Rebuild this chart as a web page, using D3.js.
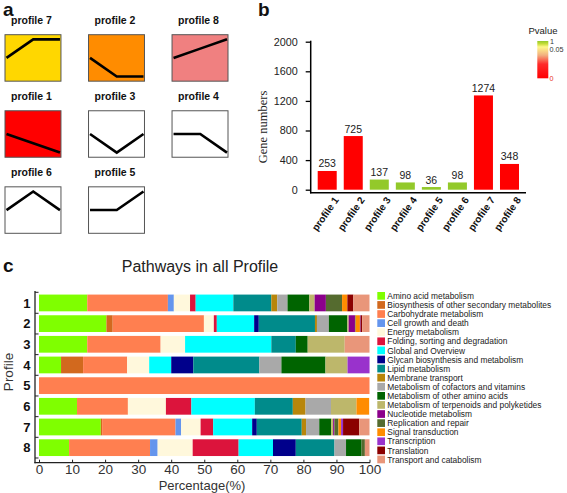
<!DOCTYPE html>
<html><head><meta charset="utf-8">
<script src="https://cdn.jsdelivr.net/npm/d3@7"></script>
<style>body{margin:0;background:#fff} svg{display:block}</style>
</head><body>
<svg id="chart" width="567" height="493"></svg>
<script>
// ---------- Panel a data ----------
const profileOrder = ["profile 7","profile 2","profile 8","profile 1","profile 3","profile 4","profile 6","profile 5"];
const profileShapes = [[0,1,1],[0,-1,-1],[0,1,2],[0,-1,-2],[0,-1,0],[0,0,-1],[0,1,0],[0,0,1]];
const profileFills = ["#FFD700","#FF8C00","#F08080","#FF0000","#FFFFFF","#FFFFFF","#FFFFFF","#FFFFFF"];

// ---------- Panel b data ----------
const barProfiles = ["profile 1","profile 2","profile 3","profile 4","profile 5","profile 6","profile 7","profile 8"];
const geneNumbers = [253,725,137,98,36,98,1274,348];
const pValues = [0,0,1,1,1,1,0,0];
const geneTicks = [0,400,800,1200,1600,2000];

// ---------- Panel c data ----------
const pathways = ["Amino acid metabolism","Biosynthesis of other secondary metabolites","Carbohydrate metabolism","Cell growth and death","Energy metabolism","Folding, sorting and degradation","Global and Overview","Glycan biosynthesis and metabolism","Lipid metabolism","Membrane transport","Metabolism of cofactors and vitamins","Metabolism of other amino acids","Metabolism of terpenoids and polyketides","Nucleotide metabolism","Replication and repair","Signal transduction","Transcription","Translation","Transport and catabolism"];
const pathwayColors = ["#7FFF00","#D2691E","#FF7F50","#6495ED","#FFF8DC","#DC143C","#00FFFF","#00008B","#008B8B","#B8860B","#A9A9A9","#006400","#BDB76B","#8B008B","#556B2F","#FF8C00","#9932CC","#8B0000","#E9967A"];
const rowLabels = ["1","2","3","4","5","6","7","8"];
const pct1 = [14.6,0,24.4,1.8,4.9,1.7,11.4,0,11.5,1.8,3.1,6.6,1.6,3.4,4.9,1.6,0,1.8,4.9];
const pct2 = [20.4,1.9,27.6,0,3.0,0.9,11.3,1.4,17.0,0.6,3.6,5.6,0.4,1.9,0.2,1.3,0.2,0.5,2.2];
const pct3 = [14.6,0,22.2,0,7.4,0,26.1,0,7.4,0,0,3.6,11.2,0,0,0,0,0,7.5];
const pct4 = [6.67,6.67,13.33,0,6.67,0,6.67,6.67,20,0,6.67,13.33,6.67,0,0,0,6.67,0,0];
const pct5 = [0,0,100,0,0,0,0,0,0,0,0,0,0,0,0,0,0,0,0];
const pct6 = [11.5,0,15.4,0,11.5,7.7,19.2,0,11.5,3.85,7.7,0,7.7,0,0,3.85,0,0,0];
const pct7 = [18.7,0.4,22.2,1.7,5.9,3.8,11.8,1.4,13.6,1.3,4.0,3.6,0.6,0.4,1.2,0.8,0.6,4.9,3.1];
const pct8 = [9.1,0,24.5,2.3,10.6,13.9,10.4,6.9,11.7,0,3.5,4.7,0,0,1.0,0,0,0,1.4];
const pctRows = [pct1,pct2,pct3,pct4,pct5,pct6,pct7,pct8];
const pctTicks = [0,10,20,30,40,50,60,70,80,90,100];

const svg = d3.select("#chart");
const SANS = "'Liberation Sans', Arial, sans-serif";

// panel letters
[["a",3,16],["b",258,16],["c",3,272]].forEach(([t,x,y]) =>
  svg.append("text").attr("x",x).attr("y",y).text(t)
    .attr("font-family",SANS).attr("font-weight","bold").attr("font-size",19).attr("fill","#111"));

// ================= Panel a =================
const colA = d3.scaleBand().domain([0,1,2]).range([5,228]).paddingInner(0.33).paddingOuter(0);
const rowA = d3.scaleBand().domain([0,1,2]).range([34.7,233.3]).paddingInner(0.389).paddingOuter(0);
profileOrder.forEach((name,i) => {
  const c = i % 3, r = Math.floor(i / 3);
  const x0 = colA(c), y0 = rowA(r), w = colA.bandwidth(), h = rowA.bandwidth();
  const g = svg.append("g");
  g.append("text").attr("x", x0 + w/2 - 1.5).attr("y", y0 - 10.5).attr("text-anchor","middle")
    .attr("font-family",SANS).attr("font-weight","bold").attr("font-size",10.5).attr("fill","#111").text(name);
  g.append("rect").attr("x",x0).attr("y",y0).attr("width",w).attr("height",h)
    .attr("fill",profileFills[i]).attr("stroke","#555").attr("stroke-width",1);
  const vals = profileShapes[i];
  const m = d3.max(vals, v => Math.abs(v));
  const xs = d3.scalePoint().domain([0,1,2]).range([x0+1.5, x0+w-1]);
  const ys = d3.scaleLinear().domain([-m, m]).range([y0 + h*0.9, y0 + h*0.1]);
  g.append("path").datum(vals)
    .attr("d", d3.line().x((d,j)=>xs(j)).y(d=>ys(d)))
    .attr("fill","none").attr("stroke","#000").attr("stroke-width",2.6);
});

// ================= Panel b =================
const xB = d3.scaleBand().domain(barProfiles).range([310.7,526]).paddingInner(0.27).paddingOuter(0.269);
const yB = d3.scaleLinear().domain([0,2000]).range([189.7,41.7]);
const pColor = d3.scaleLinear().domain([0,0.05,1]).range(["#FF0000","#FF0000","#93C92A"]);

svg.append("g").selectAll("rect").data(geneNumbers).join("rect")
  .attr("x",(d,i)=>xB(barProfiles[i])).attr("width",xB.bandwidth())
  .attr("y",d=>yB(d)).attr("height",d=>yB(0)-yB(d))
  .attr("fill",(d,i)=>pColor(pValues[i]));
svg.append("g").selectAll("text").data(geneNumbers).join("text")
  .attr("x",(d,i)=>xB(barProfiles[i])+xB.bandwidth()/2).attr("y",d=>yB(d)-3.5)
  .attr("text-anchor","middle").attr("font-family",SANS).attr("font-size",10.5).attr("fill","#222")
  .text(d=>d);

const yAxisB = svg.append("g").attr("transform","translate(310.7,0)")
  .call(d3.axisLeft(yB).tickValues(geneTicks).tickFormat(d3.format("d")).tickSize(5).tickPadding(8));
yAxisB.select(".domain").remove();
yAxisB.selectAll("line").attr("stroke","#000").attr("stroke-width",1.3);
yAxisB.selectAll("text").attr("font-family",SANS).attr("font-size",10.8).attr("fill","#222");
svg.append("line").attr("x1",310.7).attr("x2",310.7).attr("y1",yB(2000)-1).attr("y2",193.4)
  .attr("stroke","#000").attr("stroke-width",1.5);
svg.append("line").attr("x1",310).attr("x2",526).attr("y1",192.7).attr("y2",192.7)
  .attr("stroke","#000").attr("stroke-width",1.5);

svg.append("g").selectAll("text").data(barProfiles).join("text")
  .attr("transform",d=>`translate(${xB(d)+xB.bandwidth()/2+12},200) rotate(-55)`)
  .attr("text-anchor","end").attr("font-family",SANS).attr("font-weight","bold")
  .attr("font-size",10).attr("fill","#111").text(d=>d);

svg.append("text").attr("transform","translate(267,127) rotate(-90)").attr("text-anchor","middle")
  .attr("font-family","'Liberation Serif', 'Times New Roman', serif").attr("font-size",12.5)
  .attr("fill","#222").text("Gene numbers");

// Pvalue legend
const defs = svg.append("defs");
const grad = defs.append("linearGradient").attr("id","pgrad").attr("x1",0).attr("x2",0).attr("y1",0).attr("y2",1);
[[0,"#93C92A"],[0.08,"#C9DE3A"],[0.16,"#FFF88A"],[0.38,"#F2B080"],[0.62,"#FF2A2A"],[1,"#FF0000"]]
  .forEach(([o,c]) => grad.append("stop").attr("offset",o).attr("stop-color",c));
svg.append("rect").attr("x",537.3).attr("y",41).attr("width",11).attr("height",37.3).attr("fill","url(#pgrad)");
svg.append("text").attr("x",528.5).attr("y",33.5).attr("font-family",SANS).attr("font-size",9.5)
  .attr("fill","#222").text("Pvalue");
[["1",550,43.5,"#333"],["0.05",549.5,51.5,"#333"],["0",549.5,81,"#E8302A"]].forEach(([t,x,y,c]) =>
  svg.append("text").attr("x",x).attr("y",y).attr("font-family",SANS).attr("font-size",7.2).attr("fill",c).text(t));

// ================= Panel c =================
svg.append("text").attr("x",200).attr("y",272).attr("text-anchor","middle")
  .attr("font-family",SANS).attr("font-size",16).attr("fill","#222").text("Pathways in all Profile");

const xC = d3.scaleLinear().domain([0,100]).range([39,369.5]);
const yC = d3.scaleBand().domain(rowLabels).range([292.3,458.3]).paddingInner(0.19).paddingOuter(0.11);
const tableC = rowLabels.map((r,i) => {
  const o = {row:r};
  pathways.forEach((p,j) => o[p] = pctRows[i][j]);
  return o;
});
const stackC = d3.stack().keys(pathways)(tableC);
const colorC = d3.scaleOrdinal().domain(pathways).range(pathwayColors);
svg.append("g").selectAll("g").data(stackC).join("g").attr("fill",d=>colorC(d.key))
  .selectAll("rect").data(d=>d).join("rect")
  .attr("x",d=>xC(d[0])).attr("width",d=>Math.max(0,xC(d[1])-xC(d[0])))
  .attr("y",d=>yC(d.data.row)).attr("height",yC.bandwidth());

// axes
svg.append("line").attr("x1",35).attr("x2",35).attr("y1",291).attr("y2",463.3).attr("stroke","#222").attr("stroke-width",1.3);
svg.append("line").attr("x1",34.4).attr("x2",370).attr("y1",462.7).attr("y2",462.7).attr("stroke","#222").attr("stroke-width",1.3);
const bounds = [292.3].concat(rowLabels.map(r => yC(r) + yC.bandwidth() + yC.step()*yC.paddingInner()/2));
svg.append("g").selectAll("line").data(bounds).join("line")
  .attr("x1",35).attr("x2",38.5).attr("y1",d=>d).attr("y2",d=>d).attr("stroke","#222").attr("stroke-width",1);
svg.append("g").selectAll("text").data(rowLabels).join("text")
  .attr("x",30.5).attr("y",d=>yC(d)+yC.bandwidth()/2+4.6).attr("text-anchor","end")
  .attr("font-family",SANS).attr("font-weight","bold").attr("font-size",13).attr("fill","#111").text(d=>d);

const xAxisC = svg.append("g").attr("transform","translate(0,462.7)")
  .call(d3.axisBottom(xC).tickValues(pctTicks).tickSize(-3).tickPadding(2));
xAxisC.select(".domain").remove();
xAxisC.selectAll("line").attr("stroke","#222");
xAxisC.selectAll("text").attr("font-family",SANS).attr("font-size",13.5).attr("fill","#333");

svg.append("text").attr("x",202).attr("y",489.5).attr("text-anchor","middle")
  .attr("font-family",SANS).attr("font-size",13).attr("fill","#333").text("Percentage(%)");
svg.append("text").attr("transform","translate(13,372) rotate(-90)").attr("text-anchor","middle")
  .attr("font-family",SANS).attr("font-size",13.5).attr("fill","#333").text("Profile");

// legend
const legC = svg.append("g");
pathways.forEach((p,i) => {
  const y = 296 + i*9.09;
  legC.append("rect").attr("x",377.3).attr("y",y-4).attr("width",7.7).attr("height",7.7).attr("fill",pathwayColors[i]);
  legC.append("text").attr("x",387.3).attr("y",y+3).attr("font-family",SANS).attr("font-size",8.4)
    .attr("fill","#222").text(p);
});
</script>
</body></html>
